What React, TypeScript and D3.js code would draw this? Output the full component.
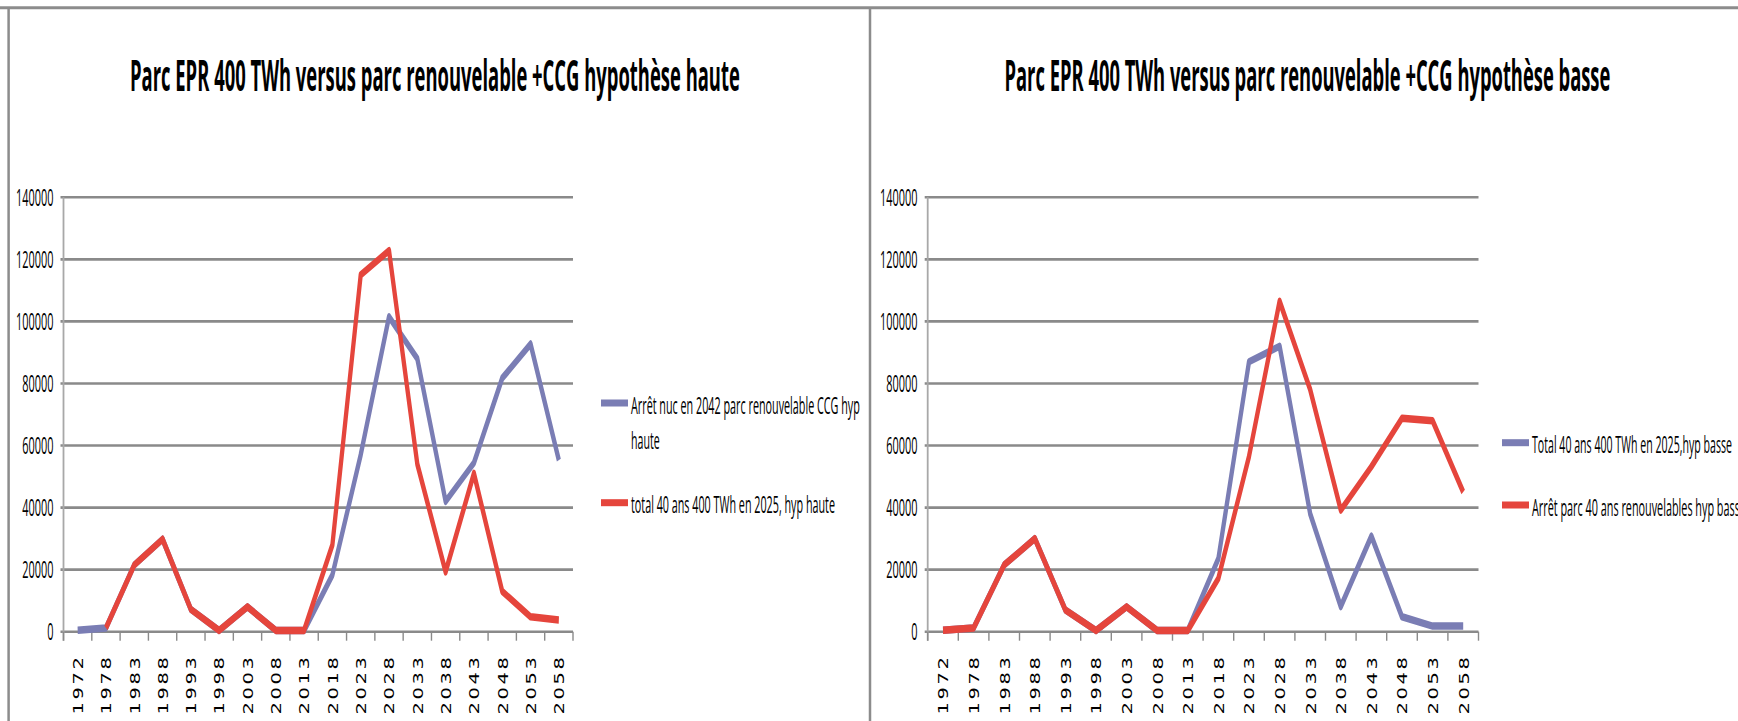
import React, { useLayoutEffect, useRef, useState } from 'react';
import * as d3 from 'd3';

// Category axis (years) and value axis ticks
const years = ['1972', '1978', '1983', '1988', '1993', '1998', '2003', '2008', '2013', '2018', '2023', '2028', '2033', '2038', '2043', '2048', '2053', '2058'];
const yTicks = [0, 20000, 40000, 60000, 80000, 100000, 120000, 140000];

// Hypothèse haute
const hauteArretNuc: (number | null)[] = [500, 1200, 21500, 29800, 7200, 400, 8000, 400, 400, 18300, 57000, 101500, 88000, 42000, 54400, 81700, 92700, 55300];
const hauteTotal40: (number | null)[] = [null, 1200, 21500, 29800, 7200, 400, 8000, 400, 400, 28000, 115000, 122800, 54000, 19300, 51000, 13000, 4800, 3800];

// Hypothèse basse
const basseTotal40: (number | null)[] = [500, 1200, 21500, 30000, 7000, 400, 8000, 400, 400, 23600, 87000, 92000, 38000, 8100, 30800, 4800, 1800, 1800];
const basseArret40: (number | null)[] = [500, 1200, 21500, 30000, 7000, 400, 8000, 400, 400, 17200, 56500, 106500, 78000, 39200, 53200, 68800, 68000, 45000];

const BLUE = '#7a7db4';
const RED = '#e5453c';
const GRID = '#8a8a8a';

// Horizontal squeeze applied to the series strokes
const SQ = 0.57;

type Series = { name: string[]; color: string; values: (number | null)[]; legendY: number; textLen: number[] };

type Panel = {
  title: string;
  titleX: number;
  titleLen: number;
  axisX: number;
  plotRight: number;
  labelEnd: number;
  legendX: number;
  series: Series[];
};

const panels: Panel[] = [
  {
    title: 'Parc EPR 400 TWh versus parc renouvelable +CCG hypothèse haute',
    titleX: 130,
    titleLen: 610,
    axisX: 63.5,
    plotRight: 573,
    labelEnd: 53.4,
    legendX: 601,
    series: [
      { name: ['Arrêt nuc en 2042  parc renouvelable CCG hyp', 'haute'], color: BLUE, values: hauteArretNuc, legendY: 403, textLen: [229, 28.7] },
      { name: ['total 40 ans 400 TWh en 2025, hyp haute'], color: RED, values: hauteTotal40, legendY: 502.7, textLen: [204] },
    ],
  },
  {
    title: 'Parc EPR 400 TWh versus parc renouvelable +CCG hypothèse basse',
    titleX: 1004.5,
    titleLen: 606,
    axisX: 927.7,
    plotRight: 1478.5,
    labelEnd: 917.4,
    legendX: 1502,
    series: [
      { name: ['Total 40 ans 400 TWh en 2025,hyp basse'], color: BLUE, values: basseTotal40, legendY: 442.7, textLen: [200] },
      { name: ['Arrêt parc 40 ans renouvelables hyp basse'], color: RED, values: basseArret40, legendY: 505, textLen: [214] },
    ],
  },
];

const Y0 = 631.7;
const YTOP = 197.3;

// Text squeezed horizontally so that it spans a given width
function FitText({
  x,
  y,
  width,
  size,
  weight = 400,
  children,
}: {
  x: number;
  y: number;
  width: number;
  size: number;
  weight?: number;
  children: string;
}) {
  const ref = useRef<SVGTextElement>(null);
  const [k, setK] = useState(0.5);
  useLayoutEffect(() => {
    const el = ref.current;
    if (!el) return;
    const n = el.getComputedTextLength();
    if (n > 0) setK(width / n);
  }, [width, children, size]);
  return (
    <text
      ref={ref}
      transform={`translate(${x},${y}) scale(${k},1)`}
      fontFamily="'Open Sans', sans-serif"
      fontWeight={weight}
      fontSize={size}
      fill="#000"
    >
      {children}
    </text>
  );
}

function ChartPanel({ p }: { p: Panel }) {
  const x = d3.scaleBand<string>().domain(years).range([p.axisX, p.plotRight]);
  const y = d3.scaleLinear().domain([0, 140000]).range([Y0, YTOP]);
  const line = d3
    .line<number | null>()
    .defined((d) => d != null)
    .x((_, i) => ((x(years[i]) as number) + x.bandwidth() / 2) / SQ)
    .y((d) => y(d as number));
  const boundaries = d3.range(years.length + 1).map((i) => p.axisX + i * x.bandwidth());

  return (
    <g>
      <FitText x={p.titleX} y={91} width={p.titleLen} size={43} weight={700}>
        {p.title}
      </FitText>

      {/* value grid */}
      {yTicks.map((t) => (
        <g key={t}>
          <line x1={p.axisX - 3} x2={p.plotRight} y1={y(t)} y2={y(t)} stroke={GRID} strokeWidth={2.6} />
          <text
            transform={`translate(${p.labelEnd},${y(t) + 8.2}) scale(0.475,1)`}
            textAnchor="end"
            fontFamily="'Open Sans', sans-serif"
            fontSize={23}
            fill="#000"
          >
            {t}
          </text>
        </g>
      ))}

      {/* axes */}
      <line x1={p.axisX} x2={p.axisX} y1={YTOP} y2={Y0 + 9} stroke="#a8a8a8" strokeWidth={1.8} />
      {boundaries.map((bx, i) => (
        <line key={i} x1={bx} x2={bx} y1={Y0} y2={Y0 + 9} stroke={GRID} strokeWidth={1.4} />
      ))}
      {years.map((yr) => (
        <text
          key={yr}
          transform={`translate(${(x(yr) as number) + x.bandwidth() / 2 + 5.3},${654.5}) rotate(-90) scale(1,0.75)`}
          textAnchor="end"
          fontFamily="'DejaVu Sans', sans-serif"
          fontSize={19.5}
          letterSpacing={2.6}
          fill="#000"
        >
          {yr}
        </text>
      ))}

      {/* series */}
      <g transform={`scale(${SQ},1)`}>
        {p.series.map((s, i) => (
          <path
            key={i}
            d={line(s.values) || ''}
            fill="none"
            stroke={s.color}
            strokeWidth={7.5}
            strokeLinejoin="round"
            strokeLinecap="butt"
          />
        ))}
      </g>

      {/* legend */}
      {p.series.map((s, i) => (
        <g key={i}>
          <rect x={p.legendX} y={s.legendY - 3.5} width={27} height={7} fill={s.color} />
          {s.name.map((ln, j) => (
            <FitText key={j} x={p.legendX + 30} y={s.legendY + 10.5 + j * 35} width={s.textLen[j]} size={24}>
              {ln}
            </FitText>
          ))}
        </g>
      ))}
    </g>
  );
}

export default function App() {
  return (
    <svg
      width={1738}
      height={721}
      viewBox="0 0 1738 721"
      style={{ position: 'absolute', left: 0, top: 0, background: '#fff' }}
    >
      <rect x={0} y={0} width={1738} height={721} fill="#fff" />
      <line x1={0} x2={1738} y1={7.7} y2={7.7} stroke="#8c8c8c" strokeWidth={3} />
      <line x1={8.6} x2={8.6} y1={7.7} y2={721} stroke="#8c8c8c" strokeWidth={2.5} />
      <line x1={870} x2={870} y1={7.7} y2={721} stroke="#8c8c8c" strokeWidth={2.5} />
      {panels.map((p, i) => (
        <ChartPanel key={i} p={p} />
      ))}
    </svg>
  );
}
